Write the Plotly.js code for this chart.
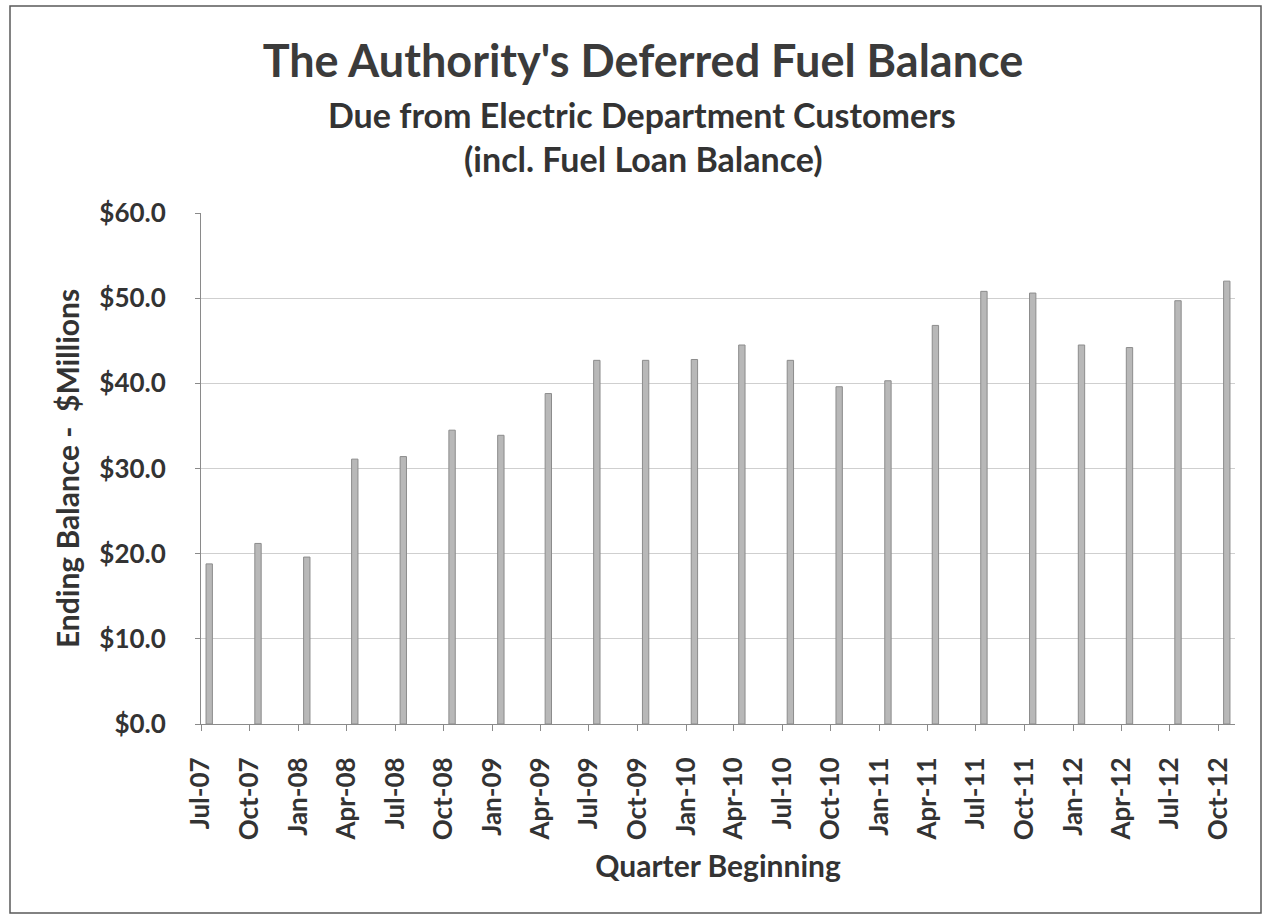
<!DOCTYPE html>
<html>
<head>
<meta charset="utf-8">
<script src="https://cdn.plot.ly/plotly-3.0.1.min.js"></script>
<style>
  html, body { margin: 0; padding: 0; background: #ffffff; }
  #chart { width: 1267px; height: 916px; }
</style>
</head>
<body>
<div id="chart"></div>
<script>
// Quarter start dates (bars sit in the middle of the first month of each quarter)
const quarterStarts = [
  "2007-07-01", "2007-10-01", "2008-01-01", "2008-04-01", "2008-07-01", "2008-10-01",
  "2009-01-01", "2009-04-01", "2009-07-01", "2009-10-01", "2010-01-01", "2010-04-01",
  "2010-07-01", "2010-10-01", "2011-01-01", "2011-04-01", "2011-07-01", "2011-10-01",
  "2012-01-01", "2012-04-01", "2012-07-01", "2012-10-01"
];

// Axis labels for each quarter
const quarterLabels = [
  "Jul-07", "Oct-07", "Jan-08", "Apr-08", "Jul-08", "Oct-08",
  "Jan-09", "Apr-09", "Jul-09", "Oct-09", "Jan-10", "Apr-10",
  "Jul-10", "Oct-10", "Jan-11", "Apr-11", "Jul-11", "Oct-11",
  "Jan-12", "Apr-12", "Jul-12", "Oct-12"
];

// Ending deferred fuel balance, $ millions
const endingBalance = [
  18.8, 21.2, 19.6, 31.1, 31.4, 34.5,
  33.9, 38.8, 42.7, 42.7, 42.8, 44.5,
  42.7, 39.6, 40.3, 46.8, 50.8, 50.6,
  44.5, 44.2, 49.7, 52.0
];

// Value-axis ticks and their labels
const yTickValues = [0, 10, 20, 30, 40, 50, 60];
const yTickLabels = ["$0.0", "$10.0", "$20.0", "$30.0", "$40.0", "$50.0", "$60.0"];

// Plot-area edges in page pixels, used for placing frame and text
const L = 201, R = 1235, T = 213, B = 724;
const px = x => (x - L) / (R - L);
const py = y => (B - y) / (B - T);

const FONT = "Lato, 'Open Sans', sans-serif";
const INK = "#333333";
const DAY = 24 * 3600 * 1000;

const trace = {
  type: "bar",
  x: quarterStarts,
  y: endingBalance,
  xperiod: "M1",
  xperiodalignment: "middle",
  width: 12 * DAY,
  marker: {
    color: "#b8b8b8",
    line: { color: "#8c8c8c", width: 1 }
  },
  hovertemplate: "%{y:$.1f}M<extra></extra>"
};

const layout = {
  width: 1267,
  height: 916,
  margin: { l: L, r: 1267 - R, t: T, b: 916 - B, pad: 0 },
  paper_bgcolor: "#ffffff",
  plot_bgcolor: "#ffffff",
  showlegend: false,
  bargap: 0,
  font: { family: FONT, color: INK },
  title: {
    text: "<b>The Authority's Deferred Fuel Balance</b>",
    font: { family: FONT, size: 45, color: "#3b3b3b" },
    x: px(643), xref: "paper",
    y: 1 - 61 / 916, yref: "container",
    xanchor: "center", yanchor: "middle"
  },
  annotations: [
    {
      text: "<b>Due from Electric Department Customers</b>",
      xref: "paper", yref: "paper", x: px(642), y: py(115),
      xanchor: "center", yanchor: "middle", showarrow: false,
      font: { family: FONT, size: 34, color: INK }
    },
    {
      text: "<b>(incl. Fuel Loan Balance)</b>",
      xref: "paper", yref: "paper", x: px(643), y: py(159),
      xanchor: "center", yanchor: "middle", showarrow: false,
      font: { family: FONT, size: 34, color: INK }
    }
  ],
  shapes: [
    {
      type: "rect", xref: "paper", yref: "paper",
      x0: px(10), x1: px(1261), y0: py(913), y1: py(6),
      line: { color: "#5a5a5a", width: 1.5 },
      layer: "below"
    }
  ],
  xaxis: {
    type: "date",
    range: ["2007-07-01", "2012-11-01"],
    tickmode: "array",
    tickvals: quarterStarts,
    ticktext: quarterLabels,
    tickangle: -90,
    tickfont: { family: FONT, size: 26, color: INK, weight: "bold" },
    ticks: "outside",
    ticklen: 6,
    tickcolor: "#8a8a8a",
    ticklabelstandoff: 16,
    showline: true,
    linecolor: "#8a8a8a",
    linewidth: 1,
    showgrid: false,
    zeroline: false,
    fixedrange: true,
    title: {
      text: "<b>Quarter Beginning</b>",
      font: { family: FONT, size: 30, color: INK },
      standoff: 16
    }
  },
  yaxis: {
    range: [0, 60],
    tickmode: "array",
    tickvals: yTickValues,
    ticktext: yTickLabels,
    tickfont: { family: FONT, size: 26, color: INK, weight: "bold" },
    ticks: "outside",
    ticklen: 5,
    tickcolor: "#8a8a8a",
    ticklabelstandoff: 24,
    showline: true,
    linecolor: "#8a8a8a",
    linewidth: 1,
    showgrid: true,
    gridcolor: "#cfcfcf",
    gridwidth: 1,
    zeroline: false,
    fixedrange: true,
    title: {
      text: "<b>Ending Balance -  $Millions</b>",
      font: { family: FONT, size: 30, color: INK },
      standoff: 10
    }
  }
};

Plotly.newPlot("chart", [trace], layout, { displayModeBar: false, staticPlot: true });
</script>
</body>
</html>
